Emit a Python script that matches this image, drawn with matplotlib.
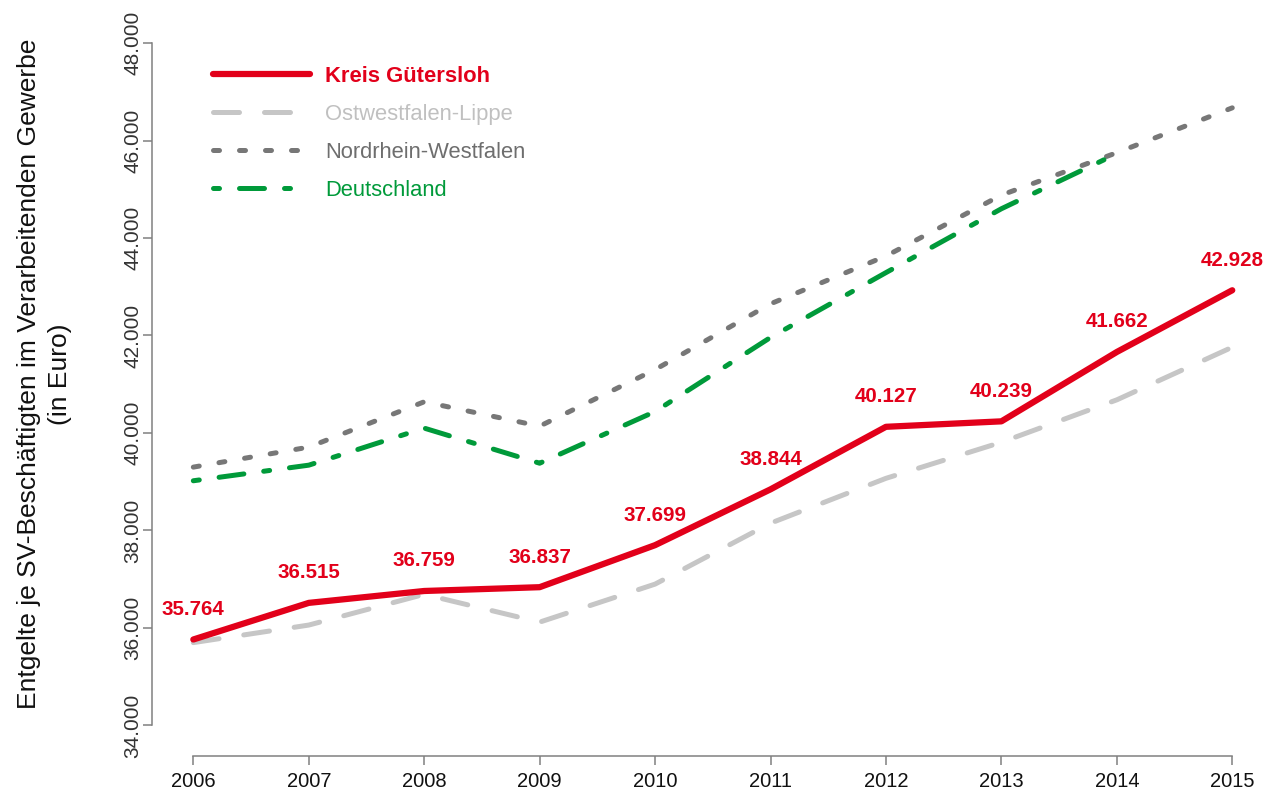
import matplotlib
matplotlib.use("Agg")
import matplotlib.pyplot as plt
import numpy as np

plt.rcParams['font.family'] = ['Liberation Sans', 'DejaVu Sans']

years = [2006, 2007, 2008, 2009, 2010, 2011, 2012, 2013, 2014, 2015]
kreis_guetersloh = [35764, 36515, 36759, 36837, 37699, 38844, 40127, 40239, 41662, 42928]
ostwestfalen_lippe = [35700, 36060, 36690, 36120, 36900, 38150, 39070, 39810, 40680, 41760]
nordrhein_westfalen = [39300, 39710, 40640, 40140, 41300, 42650, 43630, 44880, 45750, 46670]
deutschland = [39020, 39340, 40100, 39380, 40440, 41960, 43290, 44600, 45730, np.nan]

series_names = ["Kreis Gütersloh", "Ostwestfalen-Lippe", "Nordrhein-Westfalen", "Deutschland"]
y_ticks = [34000, 36000, 38000, 40000, 42000, 44000, 46000, 48000]
y_label = "Entgelte je SV-Beschäftigten im Verarbeitenden Gewerbe\n(in Euro)"

RED = "#E2001A"
LGRAY = "#C6C6C6"
DGRAY = "#777777"
GREEN = "#009A3A"

W, H = 1275, 794
fig = plt.figure(figsize=(W / 100, H / 100), dpi=100)
ax = fig.add_axes([152 / W, 38 / H, 1103 / W, 736 / H])

ax.set_xlim(2005.642, 2015.197)
ax.set_ylim(33374, 48472)

lw_thin = 3.6
l_owl, = ax.plot(years, ostwestfalen_lippe, color=LGRAY, lw=lw_thin,
                 linestyle=(0, (5.2, 5.0)), dash_capstyle='round', solid_capstyle='round')
l_nrw, = ax.plot(years, nordrhein_westfalen, color=DGRAY, lw=lw_thin,
                 linestyle=(0, (1.2, 4.0)), dash_capstyle='round')
l_de, = ax.plot(years, deutschland, color=GREEN, lw=lw_thin,
                linestyle=(0, (1.2, 4.0, 5.0, 4.0)), dash_capstyle='round')
l_kr, = ax.plot(years, kreis_guetersloh, color=RED, lw=4.5, solid_capstyle='round',
                solid_joinstyle='round')

for x, v in zip(years, kreis_guetersloh):
    ax.annotate(f"{v:,}".replace(",", "."), xy=(x, v), xytext=(0, 21.6),
                textcoords='offset points', ha='center', va='center',
                color=RED, fontsize=14.8, fontweight='bold')

# spines
for s in ['top', 'right']:
    ax.spines[s].set_visible(False)
for s in ['left', 'bottom']:
    ax.spines[s].set_color('#808080')
    ax.spines[s].set_linewidth(1.1)
ax.spines['left'].set_bounds(34000, 48000)
ax.spines['bottom'].set_bounds(2006, 2015)

ax.set_xticks(years)
ax.set_xticklabels([str(y) for y in years], fontsize=14.5, color='#111111')
ax.set_yticks(y_ticks)
ax.set_yticklabels([f"{t:,}".replace(",", ".") for t in y_ticks], fontsize=15,
                   color='#333333', rotation=90, va='center')
ax.tick_params(axis='both', length=6.5, width=1.1, color='#808080')
ax.tick_params(axis='x', pad=5)
ax.tick_params(axis='y', pad=0.5)

fig.text(44.5 / W, 1 - 374 / H, y_label, rotation=90, ha='center', va='center',
         fontsize=19, color='#111111', linespacing=1.4, multialignment='center')

leg = ax.legend([l_kr, l_owl, l_nrw, l_de], series_names,
                loc='upper left', bbox_to_anchor=(213 / W, 1 - 66 / H),
                bbox_transform=fig.transFigure, frameon=False, fontsize=15.8,
                handlelength=4.4, handletextpad=0.72, labelspacing=0.77,
                borderpad=0, borderaxespad=0)
colors = [RED, "#C0C0C0", "#6E6E6E", GREEN]
for t, c in zip(leg.get_texts(), colors):
    t.set_color(c)
leg.get_texts()[0].set_fontweight('bold')

fig.savefig("out.png", dpi=100)
